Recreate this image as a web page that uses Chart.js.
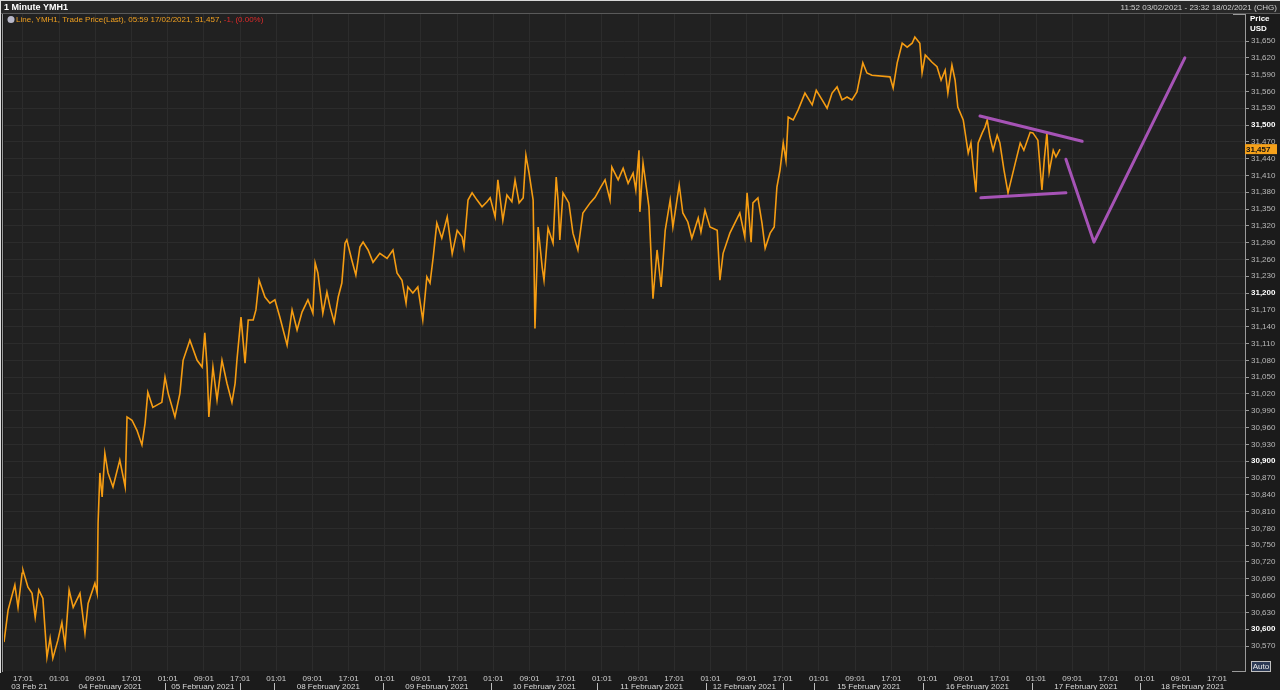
<!DOCTYPE html>
<html>
<head>
<meta charset="utf-8">
<script src="https://cdn.jsdelivr.net/npm/chart.js@4.4.1/dist/chart.umd.min.js"></script>
<style>
  html, body { margin: 0; padding: 0; background: #1b1b1b; }
  canvas { display: block; }
</style>
</head>
<body>
<canvas id="chart" width="1280" height="690"></canvas>
<script>
// trading-hour index (weekend removed), 03 Feb 17:01 = 17
const times = [12.8,13.7,15.2,15.9,16.8,17.0,18.1,19.0,19.7,20.5,21.4,22.3,23.0,23.6,24.7,25.6,26.3,27.2,28.1,29.6,
  30.7,31.4,32.9,33.4,33.6,34.0,34.5,35.1,35.8,36.9,38.4,39.6,40.0,41.1,42.2,43.3,44.0,44.6,45.7,47.7,
  48.4,49.1,50.6,51.7,52.4,53.9,55.5,56.6,57.2,57.7,58.1,59.0,59.9,61.0,62.1,63.2,63.9,64.3,65.2,66.1,
  66.8,67.9,68.5,69.2,70.5,71.6,72.7,73.8,75.4,76.5,77.6,78.7,80.0,81.1,81.6,82.2,83.3,84.2,84.9,85.8,
  86.7,87.5,88.2,88.6,89.7,90.6,91.5,92.2,93.3,94.4,95.9,97.5,98.8,99.7,100.8,101.7,102.1,103.2,104.3,105.4,
  106.3,107.0,107.7,108.5,109.6,110.8,111.9,113.0,114.1,114.5,115.4,116.3,117.4,118.5,119.6,120.3,121.4,122.0,123.1,124.0,
  125.1,125.8,126.7,127.6,128.2,128.9,129.8,130.2,130.9,131.8,132.2,133.1,134.2,134.9,135.3,135.7,136.4,137.7,138.6,139.7,
  140.8,142.4,143.5,144.6,145.7,146.8,147.2,148.6,149.7,150.8,151.9,152.5,153.2,153.4,154.1,155.0,155.4,156.3,157.2,158.1,
  159.0,160.1,160.7,162.1,162.9,164.0,164.9,166.3,166.9,167.8,168.9,170.5,171.1,171.8,173.3,175.5,176.6,177.1,178.0,178.4,
  179.5,180.4,181.1,182.2,183.1,183.7,184.4,185.1,185.7,186.2,187.3,188.4,189.9,191.5,192.4,193.7,194.8,195.9,197.0,198.1,
  199.2,200.3,201.4,202.7,203.6,204.7,208.7,209.4,210.3,211.4,212.5,213.6,214.2,215.3,215.8,216.5,218.0,219.1,220.0,220.9,
  221.5,222.4,223.1,223.7,224.9,226.0,226.6,227.1,227.7,228.2,229.1,229.7,230.2,230.8,231.5,232.4,233.0,233.9,234.8,235.5,
  236.4,237.5,238.3,239.7,240.3,241.4,242.3,242.8,243.4,243.9,244.8,245.4,246.3];
const prices = [30577,30634,30679,30639,30700,30705,30675,30664,30621,30670,30655,30550,30584,30548,30580,30612,30571,30670,30639,30664,
  30593,30646,30682,30664,30789,30879,30836,30914,30879,30854,30902,30854,30979,30973,30955,30929,30968,31023,30996,31005,
  31050,31021,30979,31021,31080,31116,31080,31068,31129,31068,30979,31068,31009,31080,31039,31005,31039,31080,31157,31075,
  31152,31152,31170,31223,31193,31182,31188,31157,31107,31170,31134,31166,31188,31164,31254,31236,31164,31202,31175,31148,
  31193,31218,31289,31295,31259,31232,31282,31291,31277,31255,31271,31262,31277,31236,31223,31182,31211,31200,31211,31152,
  31229,31218,31264,31325,31298,31336,31270,31312,31300,31282,31366,31379,31366,31354,31363,31370,31336,31402,31330,31375,
  31363,31402,31361,31370,31446,31414,31366,31137,31318,31246,31223,31316,31289,31407,31366,31295,31379,31361,31307,31277,
  31343,31361,31371,31387,31402,31366,31425,31402,31423,31396,31414,31384,31455,31345,31432,31379,31354,31190,31277,31211,
  31312,31366,31318,31393,31343,31327,31298,31334,31309,31348,31318,31312,31223,31271,31307,31343,31300,31379,31291,31361,
  31370,31325,31280,31307,31318,31389,31420,31468,31437,31514,31509,31527,31557,31536,31562,31545,31530,31557,31568,31545,
  31550,31545,31559,31611,31593,31589,31586,31566,31611,31646,31639,31646,31657,31646,31593,31625,31612,31604,31580,31598,
  31557,31607,31580,31532,31509,31450,31468,31425,31380,31468,31486,31496,31509,31479,31455,31482,31468,31420,31379,31402,
  31432,31468,31455,31487,31486,31473,31384,31437,31486,31416,31455,31443,31457];

// drawn pattern lines
const upperTimes = [228.6, 251.2];
const upperPrices = [31516, 31471];
const lowerTimes = [228.8, 247.6];
const lowerPrices = [31370, 31379];
const vTimes = [247.6, 253.8, 273.9];
const vPrices = [31439, 31291, 31620];

const lastPrice = 31457;

const xTickLabels = ['17:01','01:01','09:01','17:01','01:01','09:01','17:01','01:01','09:01','17:01',
  '01:01','09:01','17:01','01:01','09:01','17:01','01:01','09:01','17:01','01:01',
  '09:01','17:01','01:01','09:01','17:01','01:01','09:01','17:01','01:01','09:01',
  '17:01','01:01','09:01','17:01'];
const dateLabels = ['03 Feb 21','04 February 2021','05 February 2021','08 February 2021','09 February 2021','10 February 2021',
  '11 February 2021','12 February 2021','15 February 2021','16 February 2021','17 February 2021','18 February 2021'];
const dateStarts = [12.8, 24, 48.5, 72.5, 96.5, 120.5, 144, 168, 192, 216, 240, 264];
const dateEnds = [24, 48.5, 65, 96.5, 120.5, 144, 168, 185, 216, 240, 264, 287.2];
const separators = [48.5, 65, 72.5, 96.5, 120.5, 144, 168, 185, 192, 216, 240, 264];

const yTicks = [];
for (let v = 30570; v <= 31650; v += 30) yTicks.push(v);

const FONT = "'Liberation Sans', Arial, sans-serif";
Chart.defaults.font.family = FONT;

const pts = (xs, ys) => xs.map((x, i) => ({ x: x, y: ys[i] }));
const isMajor = ctx => !!(ctx && ctx.tick && ctx.tick.value % 300 === 0);

const framePlugin = {
  id: 'frame',
  beforeDraw(chart) {
    const c = chart.ctx, a = chart.chartArea;
    c.save();
    c.fillStyle = '#1b1b1b';
    c.fillRect(0, 0, chart.width, chart.height);
    c.fillStyle = '#212121';
    c.fillRect(a.left, a.top, a.right - a.left, a.bottom - a.top);
    c.fillStyle = '#272727';
    c.fillRect(0, 0, chart.width, 13);
    c.fillStyle = '#d8d8d8';
    c.fillRect(0, 0, chart.width, 1);
    c.fillStyle = '#5a5a5a';
    c.fillRect(0, 13, chart.width, 1);
    c.restore();
  },
  afterDraw(chart) {
    const c = chart.ctx, a = chart.chartArea;
    const xs = chart.scales.x, ys = chart.scales.y;
    c.save();
    // left border
    c.fillStyle = '#e0e0e0';
    c.fillRect(0, 1, 1, 672);
    c.fillStyle = '#9a9a9a';
    c.fillRect(2, 14, 1, 658);

    // header
    c.textBaseline = 'middle';
    c.font = 'bold 9px ' + FONT;
    c.fillStyle = '#ffffff';
    c.textAlign = 'left';
    c.fillText('1 Minute YMH1', 4, 7.5);
    c.font = '8px ' + FONT;
    c.fillStyle = '#d0d0d0';
    c.textAlign = 'right';
    c.fillText('11:52 03/02/2021 - 23:32 18/02/2021 (CHG)', 1277, 7.5);

    // legend row
    c.beginPath();
    c.arc(11, 19.5, 3.5, 0, Math.PI * 2);
    c.fillStyle = '#b8b8c8';
    c.fill();
    c.textAlign = 'left';
    c.font = '8px ' + FONT;
    const leg = 'Line, YMH1, Trade Price(Last), 05:59 17/02/2021, 31,457, ';
    c.fillStyle = '#f0a020';
    c.fillText(leg, 16, 20);
    c.fillStyle = '#e02a2a';
    c.fillText('-1, (0.00%)', 16 + c.measureText(leg).width, 20);

    // axis title
    c.font = 'bold 8px ' + FONT;
    c.fillStyle = '#ffffff';
    c.fillText('Price', 1250, 19);
    c.fillText('USD', 1250, 29);

    // axis corners
    c.fillStyle = '#9a9a9a';
    c.fillRect(1233, a.top, 12, 1);
    c.fillRect(1232, a.bottom, 13, 1);

    // last price tag
    const py = ys.getPixelForValue(lastPrice);
    c.fillStyle = '#f5a11b';
    c.fillRect(a.right, py - 5, 32, 10);
    c.fillStyle = '#111111';
    c.font = 'bold 8px ' + FONT;
    c.fillText(lastPrice.toLocaleString('en-US'), a.right + 1, py + 0.5);

    // Auto box
    c.strokeStyle = '#bfbfbf';
    c.lineWidth = 1;
    c.strokeRect(1251.5, 661.5, 19, 10);
    c.fillStyle = '#2c3a55';
    c.fillRect(1252, 662, 18, 9);
    c.fillStyle = '#e8e8e8';
    c.font = '8px ' + FONT;
    c.textAlign = 'center';
    c.fillText('Auto', 1261, 667);

    // date row
    c.fillStyle = '#d8d8d8';
    c.font = '8px ' + FONT;
    c.textBaseline = 'top';
    c.textAlign = 'center';
    dateLabels.forEach((d, i) => {
      const x0 = xs.getPixelForValue(Math.max(dateStarts[i], xs.min));
      const x1 = xs.getPixelForValue(Math.min(dateEnds[i], xs.max));
      c.fillText(d, (x0 + x1) / 2, 683);
    });
    c.fillStyle = '#bdbdbd';
    separators.forEach(s => {
      const x = Math.round(xs.getPixelForValue(s));
      c.fillRect(x, 683, 1, 7);
    });
    c.restore();
  }
};

new Chart(document.getElementById('chart'), {
  type: 'line',
  data: {
    datasets: [
      { label: 'upper', data: pts(upperTimes, upperPrices), borderColor: '#a653b6', borderWidth: 3, pointRadius: 0, borderCapStyle: 'round', order: 0 },
      { label: 'lower', data: pts(lowerTimes, lowerPrices), borderColor: '#a653b6', borderWidth: 3, pointRadius: 0, borderCapStyle: 'round', order: 0 },
      { label: 'pattern', data: pts(vTimes, vPrices), borderColor: '#a653b6', borderWidth: 3, pointRadius: 0, borderCapStyle: 'round', borderJoinStyle: 'round', order: 0 },
      { label: 'YMH1', data: pts(times, prices), borderColor: '#f59c12', borderWidth: 1.6, pointRadius: 0, tension: 0, order: 1 }
    ]
  },
  options: {
    responsive: false,
    animation: false,
    devicePixelRatio: 1,
    layout: { padding: { left: 4, top: 14, right: 0, bottom: 0 } },
    plugins: { legend: { display: false }, tooltip: { enabled: false } },
    scales: {
      x: {
        type: 'linear',
        min: 12.8,
        max: 287.2,
        afterBuildTicks: s => { s.ticks = xTickLabels.map((l, i) => ({ value: 17 + 8 * i })); },
        afterFit: s => { s.height = 19; },
        ticks: {
          autoSkip: false,
          maxRotation: 0,
          padding: 3,
          color: '#cfcfcf',
          font: { size: 8 },
          callback: (v, i) => xTickLabels[i]
        },
        grid: { color: '#2c2c2c', drawTicks: false },
        border: { display: false }
      },
      y: {
        type: 'linear',
        position: 'right',
        min: 30525.4,
        max: 31698.2,
        afterBuildTicks: s => { s.ticks = yTicks.map(v => ({ value: v })); },
        afterFit: s => { s.width = 35; },
        ticks: {
          autoSkip: false,
          padding: 2,
          color: ctx => isMajor(ctx) ? '#ffffff' : '#b9b9b9',
          font: ctx => ({ size: 8, weight: isMajor(ctx) ? 'bold' : 'normal' }),
          callback: v => v.toLocaleString('en-US')
        },
        grid: { color: '#2c2c2c', tickColor: '#9a9a9a', tickLength: 4 },
        border: { display: true, color: '#9a9a9a' }
      }
    }
  },
  plugins: [framePlugin]
});
</script>
</body>
</html>
